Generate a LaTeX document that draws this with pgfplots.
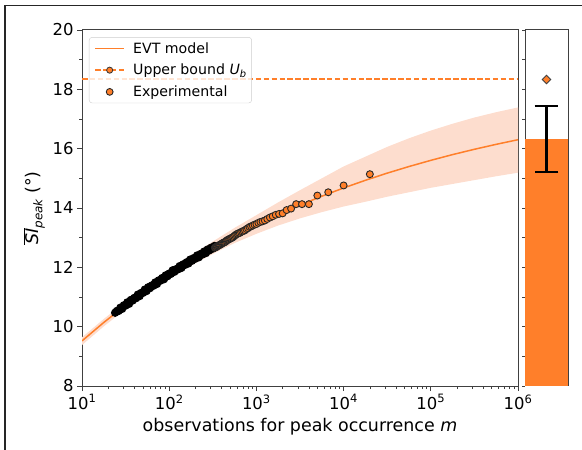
\documentclass[border=0pt]{standalone}
\usepackage{pgfplots}
\pgfplotsset{compat=1.18}
\usepackage{fontspec}
\setmainfont{DejaVu Sans}
\definecolor{c1}{HTML}{FF7F2A}
\definecolor{band}{HTML}{FDDDCE}
\begin{document}
\begin{tikzpicture}
\path[use as bounding box] (0bp,0bp) rectangle (582bp,450bp);
\draw[line width=1.3bp, black!85] (5bp,-2bp) -- (5bp,444.5bp) -- (584bp,444.5bp);
\begin{axis}[
 at={(82bp,64bp)}, anchor=south west, scale only axis, width=436bp, height=356bp,
 xmode=log, xmin=10, xmax=1000000, ymin=8, ymax=20,
 /pgf/number format/assume math mode=true,
 xtick={10,100,1000,10000,100000,1000000},
 xticklabels={10\textsuperscript{1},10\textsuperscript{2},10\textsuperscript{3},10\textsuperscript{4},10\textsuperscript{5},10\textsuperscript{6}},
 minor xtick={20,30,40,50,60,70,80,90,200,300,400,500,600,700,800,900,2000,3000,4000,5000,6000,7000,8000,9000,20000,30000,40000,50000,60000,70000,80000,90000,200000,300000,400000,500000,600000,700000,800000,900000},
 ytick={8,10,...,20}, minor ytick={9,11,...,19},
 tick align=outside, tick pos=left,
 major tick length=5bp, minor tick length=3bp,
 every tick/.style={black!75, line width=0.9bp},
 every minor tick/.style={black!75, line width=0.7bp},
 axis line style={black!75, line width=1bp},
 ticklabel style={font=\fontsize{16.5}{18}\selectfont},
 xlabel={observations for peak occurrence \textit{m}},
 ylabel={{\itshape$\overline{\mbox{SI}}$\raisebox{-0.45ex}{\fontsize{12}{12}\selectfont peak}} (°)},
 label style={font=\fontsize{17.5}{20}\selectfont},
 xlabel style={at={(axis description cs:0.5,-0.1264)}, anchor=base},
 ylabel style={at={(axis description cs:-0.11,0.5)}, anchor=center},
 legend style={at={(axis description cs:0.016,0.98)}, anchor=north west, draw=black!20, rounded corners=3bp, fill=white, fill opacity=0.8, text opacity=1, draw opacity=1, font=\fontsize{14.2}{16}\selectfont, row sep=5.5bp, inner ysep=3bp, inner xsep=3bp},
 legend cell align=left,
]
% confidence band
\addplot[draw=none, fill=band, forget plot] coordinates {
 (10,9.64) (17.78,10.26) (31.62,10.84) (56.23,11.39) (100,11.91) (177.8,12.40) (316.2,12.87) (562.3,13.33) (1000,13.76) (1778,14.19) (3162,14.60) (5623,15.00) (10000,15.40) (17783,15.73) (31623,16.06) (56234,16.35) (100000,16.61) (177828,16.84) (316228,17.05) (562341,17.23) (1000000,17.39)
 (1000000,15.19) (562341,15.07) (316228,14.94) (177828,14.81) (100000,14.68) (56234,14.53) (31623,14.38) (17783,14.21) (10000,14.05) (5623,13.86) (3162,13.65) (1778,13.41) (1000,13.13) (562.3,12.82) (316.2,12.45) (177.8,12.06) (100,11.62) (56.23,11.13) (31.62,10.59) (17.78,10.01) (10,9.38)
} -- cycle;
% EVT model
\addplot[c1, line width=1.5bp, forget plot] coordinates {
 (10,9.520) (17.78,10.142) (31.62,10.720) (56.23,11.258) (100,11.757) (177.8,12.222) (316.2,12.654) (562.3,13.055) (1000,13.428) (1778,13.775) (3162,14.097) (5623,14.397) (10000,14.675) (17783,14.934) (31623,15.175) (56234,15.398) (100000,15.606) (177828,15.800) (316228,15.979) (562341,16.146) (1000000,16.302)
};
% upper bound
\addplot[c1, line width=1.5bp, dash pattern=on 5.5bp off 2.4bp, forget plot] coordinates {(10,18.35) (1000000,18.35)};
% experimental, dense part
\addplot[only marks, mark=*, mark size=3.7bp, mark options={fill=black, draw=black, line width=0.9bp}, forget plot] coordinates {
 (23.99,10.47) (25.12,10.53) (26.30,10.53) (27.54,10.64) (28.84,10.60) (30.20,10.72) (31.62,10.71) (33.11,10.82) (34.67,10.77) (36.31,10.90)
 (38.02,10.88) (39.81,10.97) (41.69,10.96) (43.65,11.08) (45.71,11.03) (47.86,11.14) (50.12,11.14) (52.48,11.25) (54.95,11.20) (57.54,11.33)
 (60.26,11.30) (63.10,11.39) (66.07,11.38) (69.18,11.49) (72.44,11.44) (75.86,11.56) (79.43,11.55) (83.18,11.64) (87.10,11.60) (91.20,11.73)
 (95.50,11.70) (100,11.79) (104.7,11.78) (109.6,11.90) (114.8,11.85) (120.2,11.94) (125.9,11.93) (131.8,12.04) (138.0,11.98) (144.5,12.10)
 (151.4,12.08) (158.5,12.17) (166.0,12.13) (173.8,12.26) (182.0,12.22) (190.5,12.31) (199.5,12.29) (208.9,12.40) (218.8,12.34) (229.1,12.45)
 (239.9,12.43) (251.2,12.53) (263.0,12.48) (275.4,12.60) (288.4,12.57) (302.0,12.66) (316.2,12.63) (331.1,12.72)
};
% experimental, individual points
\addplot[only marks, mark=*, mark size=3.5bp, mark options={fill=c1, draw=black!85, line width=0.9bp}, forget plot] coordinates {
 (333.3,12.66) (339,12.67) (344.8,12.68) (350.9,12.70) (357.1,12.71) (363.6,12.73) (370.4,12.74) (377.4,12.75) (384.6,12.76) (392.2,12.78)
 (400,12.80) (408.2,12.81) (416.7,12.83) (425.5,12.84) (434.8,12.85) (444.4,12.87) (454.5,12.90) (465.1,12.92) (476.2,12.93) (487.8,12.95)
 (500,12.97) (512.8,12.98) (526.3,13.00) (540.5,13.02) (555.6,13.05) (571.4,13.08) (588.2,13.11) (606.1,13.13) (625,13.15) (645.2,13.16)
 (666.7,13.19) (689.7,13.21) (714.3,13.23) (740.7,13.25) (769.2,13.29) (800,13.32) (833.3,13.36) (869.6,13.38) (909.1,13.41) (952.4,13.44)
 (1000,13.46) (1053,13.50) (1111,13.53) (1176,13.55) (1250,13.58) (1333,13.63) (1429,13.68) (1538,13.72) (1667,13.77) (1818,13.80)
 (2000,13.82) (2222,13.93) (2500,13.98) (2857,14.13) (3333,14.13) (4000,14.13) (5000,14.42) (6667,14.53) (10000,14.76) (20000,15.14)
};
\addlegendimage{legend image code/.code={\path[draw=none,fill=none] (-1bp,0bp) -- (38bp,0bp); \draw[c1,line width=1.6bp,solid] (2bp,0bp) -- (31bp,0bp);}}
\addlegendentry{EVT model}
\addlegendimage{legend image code/.code={\path[draw=none,fill=none] (-1bp,0bp) -- (38bp,0bp); \draw[c1,line width=1.6bp,dash pattern=on 5.5bp off 2.4bp] (2bp,0bp) -- (31bp,0bp);
   \path[draw=black!80,fill=c1,fill opacity=1,line width=0.8bp,solid] (16.5bp,-4.3bp) -- (20.8bp,0bp) -- (16.5bp,4.3bp) -- (12.2bp,0bp) -- cycle;}}
\addlegendentry{Upper bound \textit{U}\textsubscript{\textit{b}}}
\addlegendimage{legend image code/.code={\path[draw=none,fill=none] (-1bp,0bp) -- (38bp,0bp); \path[draw=black!85,fill=c1,fill opacity=1,line width=0.9bp,solid] (16.5bp,0bp) circle (3.4bp);}}
\addlegendentry{Experimental}
\end{axis}
\begin{axis}[
 at={(525bp,64bp)}, anchor=south west, scale only axis, width=43bp, height=356bp,
 xmin=-0.5, xmax=0.5, ymin=8, ymax=20,
 xtick=\empty, ytick={8,...,20}, yticklabels={},
 tick align=outside, tick pos=left, major tick length=3bp,
 every tick/.style={black!75, line width=0.8bp},
 axis line style={black!75, line width=1bp},
]
\addplot[draw=none, fill=c1] coordinates {(-0.5,7) (-0.5,16.32) (0.5,16.32) (0.5,7)} -- cycle;
\addplot[black, mark=none, error bars/.cd, y dir=both, y explicit,
  error bar style={line width=2.3bp, black},
  error mark options={rotate=90, mark size=11.8bp, line width=2.3bp, black}]
  coordinates {(0,16.325) +- (0,1.115)};
\addplot[only marks, mark=square*, mark size=3bp, mark options={rotate=45, fill=c1, draw=black!75, line width=0.8bp}] coordinates {(0,18.33)};
\end{axis}
\end{tikzpicture}
\end{document}
